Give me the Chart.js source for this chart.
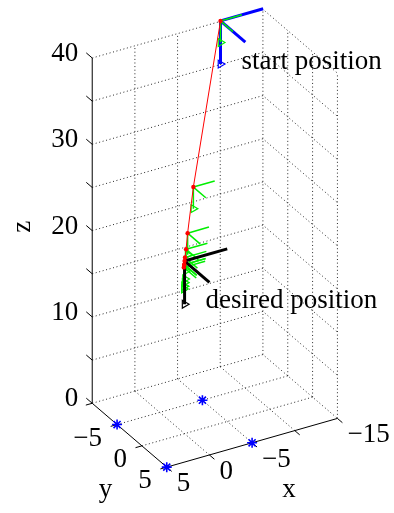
<!DOCTYPE html>
<html>
<head>
<meta charset="utf-8">
<script src="https://cdn.jsdelivr.net/npm/chart.js@4.4.0/dist/chart.umd.min.js"></script>
<style>
  html, body { margin: 0; padding: 0; background: #fff; }
  #wrap { width: 394px; height: 513px; position: relative; }
</style>
</head>
<body>
<div id="wrap"><canvas id="trajChart"></canvas></div>
<script>
// ------------------------------
// DATA
// ------------------------------

// axis ticks (3D box: x 5..-15, y -10..5, z 0..40)
const xTicks = [5, 0, -5, -10, -15];
const xTickLabels = ["5", "0", "\u22125", "", "\u221215"];
const yTicks = [-10, -5, 0, 5];
const yTickLabels = ["", "\u22125", "0", "5"];
const zTicks = [0, 5, 10, 15, 20, 25, 30, 35, 40];
const zTickLabels = ["0", "", "10", "", "20", "", "30", "", "40"];

// trajectory samples
const trajX = [-4.5, -1.1, -0.38, -0.19, -0.05, 0.05, 0.1, 0.05, 0];
const trajY = [-0.5, -0.12, -0.04, -0.02, 0, 0.02, 0.02, 0.01, 0];
const trajZ = [46.3, 28.2, 23.1, 21.3, 20.4, 19.6, 19.3, 19.6, 20];

// anchor points on the floor
const anchorX = [5, 5, -5, -5];
const anchorY = [-5, 5, 5, -5];
const anchorZ = [0, 0, 0, 0];

const startPos = [-4.5, -0.5, 46.3];
const desiredPos = [0, 0, 20];

// ------------------------------
// VIEW (linear 3D -> 2D projection)
// ------------------------------

const VIEW = { hx: -8.83, hy: 5.14, vx: -2.5, vy: -4.37, vz: 8.86 };
const WINDOW = { xMin: -184.15, xMax: 209.85, yMin: -74.65, yMax: 438.35 };

function project(x, y, z) {
  return {
    x: VIEW.hx * x + VIEW.hy * y,
    y: VIEW.vx * x + VIEW.vy * y + VIEW.vz * z
  };
}

function line(points, color, width, order, dash) {
  return {
    data: points.map((p) => project(p[0], p[1], p[2])),
    showLine: true,
    borderColor: color,
    backgroundColor: color,
    borderWidth: width,
    borderDash: dash || [],
    pointRadius: 0,
    tension: 0,
    order
  };
}

// ------------------------------
// DATASETS
// ------------------------------

const xMin = Math.min(...xTicks), xMax = Math.max(...xTicks);
const yMin = Math.min(...yTicks), yMax = Math.max(...yTicks);
const zMin = Math.min(...zTicks), zMax = Math.max(...zTicks);

function buildGrid() {
  const sets = [];
  const grey = "rgba(0,0,0,0.85)";
  const dot = [1, 2.6];

  // horizontal lines on the two back walls
  zTicks.forEach((z) => {
    sets.push(line([[xMax, yMin, z], [xMin, yMin, z], [xMin, yMax, z]], grey, 1, 100, dot));
  });
  // verticals on wall y = yMin
  xTicks.filter((x) => x !== xMax).forEach((x) => {
    sets.push(line([[x, yMin, zMin], [x, yMin, zMax]], grey, 1, 100, dot));
  });
  // verticals on wall x = xMin
  yTicks.filter((y) => y !== yMin).forEach((y) => {
    sets.push(line([[xMin, y, zMin], [xMin, y, zMax]], grey, 1, 100, dot));
  });
  // floor
  xTicks.filter((x) => x !== xMax && x !== xMin).forEach((x) => {
    sets.push(line([[x, yMin, zMin], [x, yMax, zMin]], grey, 1, 100, dot));
  });
  yTicks.filter((y) => y !== yMin && y !== yMax).forEach((y) => {
    sets.push(line([[xMax, y, zMin], [xMin, y, zMin]], grey, 1, 100, dot));
  });
  return sets;
}

function buildAxes() {
  const sets = [];
  sets.push(line([[xMax, yMin, zMin], [xMax, yMin, zMax]], "#000", 1, 90));
  sets.push(line([[xMax, yMin, zMin], [xMax, yMax, zMin]], "#000", 1, 90));
  sets.push(line([[xMax, yMax, zMin], [xMin, yMax, zMin]], "#000", 1, 90));
  zTicks.forEach((z) => sets.push(line([[xMax, yMin, z], [xMax, yMin - 1.2, z]], "#000", 1, 90)));
  yTicks.forEach((y) => sets.push(line([[xMax, y, zMin], [xMax + 0.75, y, zMin]], "#000", 1, 90)));
  xTicks.forEach((x) => sets.push(line([[x, yMax, zMin], [x, yMax + 1, zMin]], "#000", 1, 90)));
  return sets;
}

function buildFrame(p, len, color, width, order) {
  const [x, y, z] = p;
  const sets = [
    line([[x, y, z], [x - len, y, z]], color, width, order),
    line([[x, y, z], [x, y + len, z]], color, width, order),
    line([[x, y, z], [x, y, z - len]], color, width, order)
  ];
  const tip = project(x, y, z - len);
  sets.push({
    data: [tip],
    pointStyle: "triangle",
    rotation: 90,
    pointRadius: 4.5,
    borderColor: color,
    borderWidth: 1.2,
    backgroundColor: "rgba(0,0,0,0)",
    order
  });
  return sets;
}

function buildDatasets() {
  let sets = [].concat(buildGrid(), buildAxes());

  sets = sets.concat(buildFrame(startPos, 5, "#0000ff", 3, 60));
  trajX.forEach((x, i) => {
    sets = sets.concat(buildFrame([x, trajY[i], trajZ[i]], 2.5, "#00ee00", 1.5, 50));
  });
  sets = sets.concat(buildFrame(desiredPos, 5, "#000000", 3, 40));

  sets.push({
    data: trajX.map((x, i) => project(x, trajY[i], trajZ[i])),
    showLine: true,
    borderColor: "#ff0000",
    backgroundColor: "#ff0000",
    borderWidth: 1,
    pointRadius: 2.2,
    pointBorderWidth: 0,
    tension: 0,
    order: 30
  });

  sets.push({
    data: anchorX.map((x, i) => project(x, anchorY[i], anchorZ[i])),
    pointStyle: "star",
    pointRadius: 5,
    borderColor: "#0000ff",
    borderWidth: 1.6,
    order: 20
  });
  return sets;
}

// ------------------------------
// TEXT
// ------------------------------

const textPlugin = {
  id: "text3d",
  afterDatasetsDraw(chart) {
    const ctx = chart.ctx;
    const sx = chart.scales.x;
    const sy = chart.scales.y;
    const px = (x, y, z) => {
      const p = project(x, y, z);
      return [sx.getPixelForValue(p.x), sy.getPixelForValue(p.y)];
    };

    ctx.save();
    ctx.fillStyle = "#000";
    ctx.font = '27px "Liberation Serif", "Times New Roman", serif';
    ctx.textBaseline = "alphabetic";

    ctx.textAlign = "right";
    zTicks.forEach((z, i) => {
      if (!zTickLabels[i]) return;
      const [x, y] = px(xMax, yMin, z);
      ctx.fillText(zTickLabels[i], x - 14, y + 3);
    });
    yTicks.forEach((t, i) => {
      if (!yTickLabels[i]) return;
      const [x, y] = px(xMax, t, zMin);
      ctx.fillText(yTickLabels[i], x - 15, y + 21);
    });

    ctx.textAlign = "left";
    xTicks.forEach((t, i) => {
      if (!xTickLabels[i]) return;
      const [x, y] = px(t, yMax, zMin);
      ctx.fillText(xTickLabels[i], x + 10, y + 24);
    });

    let [ax, ay] = px(...startPos);
    ctx.fillText("start position", ax + 21, ay + 48);
    [ax, ay] = px(...desiredPos);
    ctx.fillText("desired position", ax + 21, ay + 47);

    ctx.textAlign = "center";
    [ax, ay] = px((xMax + xMin) / 2, yMax, zMin);
    ctx.fillText("x", ax + 37, ay + 54);
    [ax, ay] = px(xMax, (yMax + yMin) / 2, zMin);
    ctx.fillText("y", ax - 24, ay + 62);

    [ax, ay] = px(xMax, yMin, (zMax + zMin) / 2);
    ctx.translate(ax - 62, ay - 4);
    ctx.rotate(-Math.PI / 2);
    ctx.fillText("z", 0, 0);
    ctx.restore();
  }
};

// ------------------------------
// RENDER
// ------------------------------

new Chart(document.getElementById("trajChart").getContext("2d"), {
  type: "scatter",
  data: { datasets: buildDatasets() },
  options: {
    responsive: true,
    maintainAspectRatio: false,
    animation: false,
    events: [],
    layout: { padding: 0 },
    plugins: {
      legend: { display: false },
      tooltip: { enabled: false }
    },
    scales: {
      x: { type: "linear", display: false, min: WINDOW.xMin, max: WINDOW.xMax },
      y: { type: "linear", display: false, min: WINDOW.yMin, max: WINDOW.yMax }
    }
  },
  plugins: [textPlugin]
});
</script>
</body>
</html>
